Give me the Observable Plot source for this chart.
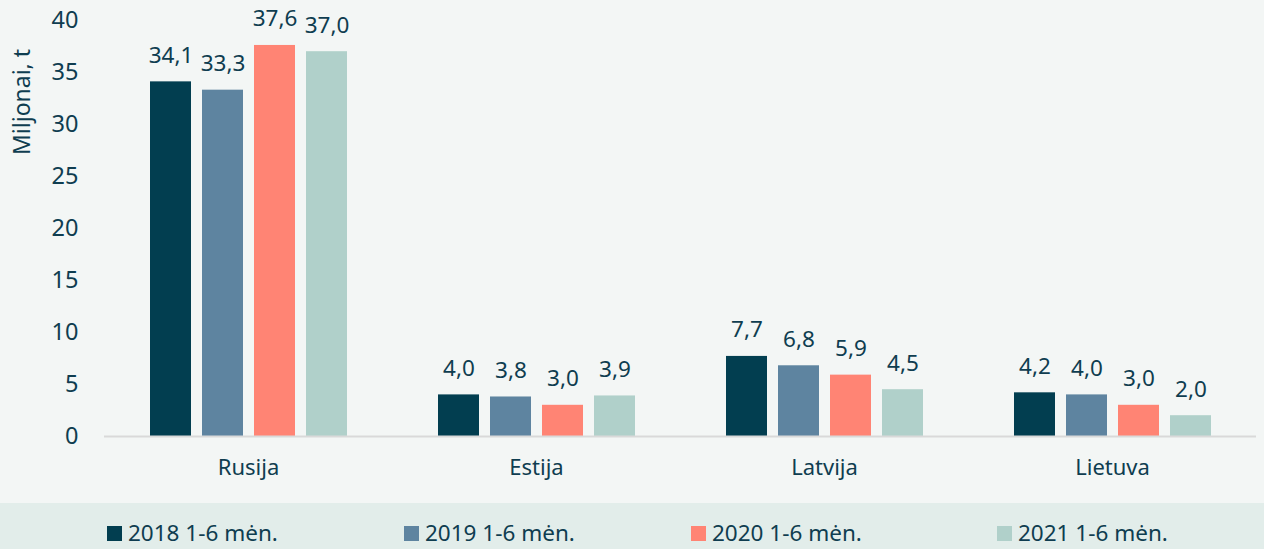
<!DOCTYPE html>
<html>
<head>
<meta charset="utf-8">
<script src="https://cdn.jsdelivr.net/npm/d3@7"></script>
<script src="https://cdn.jsdelivr.net/npm/@observablehq/plot@0.6"></script>
<style>
  html, body { margin: 0; padding: 0; background: #f3f6f5; }
  #wrap { width: 1264px; height: 549px; position: relative; background: #f3f6f5; font-family: "Noto Sans", sans-serif; color: #0f3d50; overflow: hidden; }
  #chart svg { display: block; }
  #legend { position: absolute; left: 0; top: 503px; width: 1264px; height: 46px; background: #e2edea; }
  .item { position: absolute; top: 16px; display: flex; align-items: center; font-size: 22.5px; white-space: nowrap; line-height: 28px; }
  .sw { width: 15px; height: 15px; margin-right: 6px; display: inline-block; }
</style>
</head>
<body>
<div id="wrap">
  <div id="chart"></div>
  <div id="legend"></div>
</div>
<script>
const countries = ["Rusija", "Estija", "Latvija", "Lietuva"];
const years = ["2018 1-6 mėn.", "2019 1-6 mėn.", "2020 1-6 mėn.", "2021 1-6 mėn."];
const v2018 = [34.1, 4.0, 7.7, 4.2];
const v2019 = [33.3, 3.8, 6.8, 4.0];
const v2020 = [37.6, 3.0, 5.9, 3.0];
const v2021 = [37.0, 3.9, 4.5, 2.0];
const yTicks = [0, 5, 10, 15, 20, 25, 30, 35, 40];
const colors = ["#023e50", "#5e84a0", "#ff8474", "#b0d0ca"];
const legendLeft = [107, 404, 691, 997];

const series = [v2018, v2019, v2020, v2021];
const data = [];
countries.forEach((c, i) => years.forEach((y, j) => data.push({country: c, year: y, value: series[j][i]})));
const fmt = v => d3.format(".1f")(v).replace(".", ",");

const chart = Plot.plot({
  width: 1264,
  height: 503,
  marginLeft: 103,
  marginRight: 8,
  marginTop: 20,
  marginBottom: 67,
  style: {fontFamily: "Noto Sans, sans-serif", fontSize: "22px", color: "#0f3d50", background: "transparent", overflow: "visible"},
  fx: {domain: countries, padding: 0, label: null},
  x: {domain: years, axis: null, paddingInner: 0.22, paddingOuter: 0.853},
  y: {domain: [0, 40], label: null},
  color: {domain: years, range: colors},
  marks: [
    Plot.axisY({ticks: yTicks, tickSize: 0, tickPadding: 26, fontSize: 23.5, label: null}),
    Plot.axisFx({anchor: "bottom", tickSize: 0, tickPadding: 23, fontSize: 22, label: null}),
    Plot.barY(data, {fx: "country", x: "year", y: "value", fill: "year"}),
    Plot.ruleY([0], {stroke: "#d9d9d9", strokeWidth: 2}),
    Plot.text(data, {fx: "country", x: "year", y: "value", text: d => fmt(d.value), lineAnchor: "bottom", dy: -19, fontSize: 22.5, fill: "#0f3d50"})
  ]
});

d3.select(chart).append("text")
  .attr("transform", "translate(30,102) rotate(-90)")
  .attr("text-anchor", "middle")
  .attr("fill", "#0f3d50")
  .attr("font-size", 23)
  .text("Miljonai, t");

document.getElementById("chart").appendChild(chart);

const legend = document.getElementById("legend");
years.forEach((y, i) => {
  const it = document.createElement("div");
  it.className = "item";
  it.style.left = legendLeft[i] + "px";
  it.innerHTML = `<span class="sw" style="background:${colors[i]}"></span><span>${y}</span>`;
  legend.appendChild(it);
});
</script>
</body>
</html>
